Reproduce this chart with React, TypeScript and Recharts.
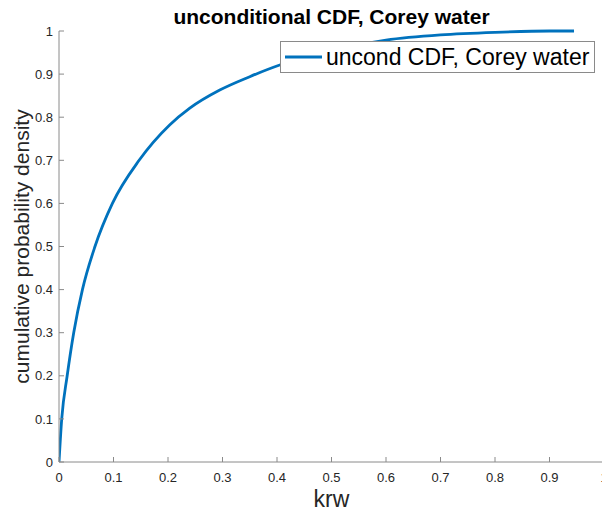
import { LineChart, Line, XAxis, YAxis, Legend } from 'recharts';

const KRW = [0, 0.005, 0.015, 0.027, 0.043, 0.066, 0.098, 0.147, 0.203, 0.24, 0.295, 0.35, 0.405, 0.5, 0.6, 0.7, 0.8, 0.9, 0.945];
const CDF = [0, 0.1, 0.2, 0.3, 0.4, 0.5, 0.6, 0.7, 0.782, 0.821, 0.863, 0.894, 0.921, 0.955, 0.979, 0.991, 0.997, 1.0, 1.0];

const X_TICKS = [0, 0.1, 0.2, 0.3, 0.4, 0.5, 0.6, 0.7, 0.8, 0.9, 1];
const Y_TICKS = [0, 0.1, 0.2, 0.3, 0.4, 0.5, 0.6, 0.7, 0.8, 0.9, 1];

const TITLE = 'unconditional CDF, Corey water';
const SERIES_NAME = 'uncond CDF, Corey water';

const data = KRW.map((k, i) => ({ krw: k, cdf: CDF[i] }));

const FONT = '"Liberation Sans", Arial, Helvetica, sans-serif';
const AXIS_COLOR = '#8a8a8a';
const TEXT_COLOR = '#262626';
const LINE_COLOR = '#0072BD';

const fmt = (v: number) => String(v);

function LegendBox() {
  return (
    <div
      style={{
        border: '1px solid #8a8a8a',
        background: '#fff',
        width: 315,
        height: 32,
        boxSizing: 'border-box',
        display: 'flex',
        alignItems: 'center',
        fontFamily: FONT,
        fontSize: 23,
        color: '#000',
        whiteSpace: 'nowrap',
      }}
    >
      <svg width={41} height={10} style={{ marginLeft: 4 }}>
        <line x1={0} y1={5} x2={37} y2={5} stroke={LINE_COLOR} strokeWidth={2.8} />
      </svg>
      <span>{SERIES_NAME}</span>
    </div>
  );
}

export default function App() {
  return (
    <div style={{ position: 'absolute', left: 0, top: 0, width: 602, height: 512, overflow: 'hidden', background: '#fff' }}>
      <div
        style={{
          position: 'absolute',
          left: 59,
          width: 545,
          top: 5,
          lineHeight: '24px',
          textAlign: 'center',
          fontFamily: FONT,
          fontWeight: 'bold',
          fontSize: 21,
          color: '#000',
        }}
      >
        {TITLE}
      </div>
      <LineChart width={620} height={512} data={data} margin={{ top: 31, right: 6, bottom: 0, left: 0 }}>
        <XAxis
          dataKey="krw"
          type="number"
          domain={[0, 1]}
          ticks={X_TICKS}
          tickFormatter={fmt}
          allowDataOverflow
          height={50}
          stroke={AXIS_COLOR}
          tickSize={-5}
          tickMargin={16}
          tick={{ fill: TEXT_COLOR, fontSize: 13, fontFamily: FONT }}
          label={{ value: 'krw', position: 'insideBottom', offset: 5, fill: TEXT_COLOR, fontSize: 23, fontFamily: FONT }}
        />
        <XAxis
          xAxisId="top"
          dataKey="krw"
          type="number"
          domain={[0, 1]}
          ticks={X_TICKS}
          orientation="top"
          height={0}
          stroke={AXIS_COLOR}
          tickSize={-5}
          tick={false}
        />
        <YAxis
          type="number"
          domain={[0, 1]}
          ticks={Y_TICKS}
          tickFormatter={fmt}
          width={59}
          stroke={AXIS_COLOR}
          tickSize={-5}
          tickMargin={11}
          tick={{ fill: TEXT_COLOR, fontSize: 13, fontFamily: FONT }}
          label={{
            value: 'cumulative probability density',
            angle: -90,
            position: 'insideLeft',
            offset: 22,
            fill: TEXT_COLOR,
            fontSize: 21,
            fontFamily: FONT,
            style: { textAnchor: 'middle' },
          }}
        />
        <YAxis
          yAxisId="right"
          orientation="right"
          type="number"
          domain={[0, 1]}
          ticks={Y_TICKS}
          width={10}
          stroke={AXIS_COLOR}
          tickSize={-5}
          tick={false}
        />
        <Legend
          layout="horizontal"
          verticalAlign="middle"
          align="center"
          wrapperStyle={{ left: 280, top: 41, width: 'auto' }}
          content={() => <LegendBox />}
        />
        <Line
          type="monotone"
          dataKey="cdf"
          name={SERIES_NAME}
          stroke={LINE_COLOR}
          strokeWidth={2.8}
          dot={false}
          isAnimationActive={false}
        />
      </LineChart>
    </div>
  );
}
